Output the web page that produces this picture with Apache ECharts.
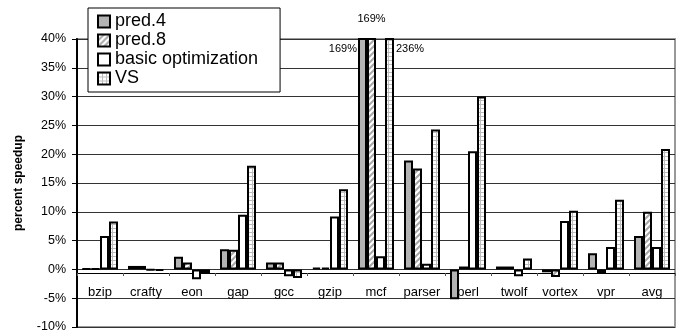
<!DOCTYPE html>
<html><head><meta charset="utf-8">
<script src="https://cdn.jsdelivr.net/npm/echarts@6/dist/echarts.min.js"></script>
<style>html,body{margin:0;padding:0;background:#fff}#c{width:681px;height:335px}</style>
</head><body><div id="c"></div>
<script>
const categories = ['bzip','crafty','eon','gap','gcc','gzip','mcf','parser','perl','twolf','vortex','vpr','avg'];
const pred4 = [0.1, 0.6, 2.2, 3.5, 1.2, 0.3, 169, 18.9, -5.2, 0.5, -0.5, 2.8, 5.8];
const pred8 = [0.1, 0.6, 1.2, 3.4, 1.2, 0.3, 169, 17.5, 0.5, 0.5, -1.3, -0.7, 10.0];
const basic = [5.8, -0.1, -1.7, 9.5, -1.2, 9.2, 2.3, 1.0, 20.5, -1.2, 8.4, 3.9, 3.9];
const vs = [8.3, -0.2, -0.7, 18.0, -1.5, 13.9, 236, 24.3, 30.0, 1.9, 10.2, 12.1, 20.9];
const seriesNames = ['pred.4','pred.8','basic optimization','VS'];
const yMin = -10, yMax = 40, yStep = 5;

const FONT = 'Liberation Sans, Arial, sans-serif';

function stripePattern(){
  const c = document.createElement('canvas'); c.width = 6; c.height = 6;
  const g = c.getContext('2d');
  g.fillStyle = '#fff'; g.fillRect(0,0,6,6);
  g.strokeStyle = '#a8a8a8'; g.lineWidth = 2;
  g.beginPath();
  g.moveTo(-1,7); g.lineTo(7,-1);
  g.moveTo(-4,4); g.lineTo(4,-4);
  g.moveTo(2,10); g.lineTo(10,2);
  g.stroke();
  return {image: c, repeat: 'repeat'};
}
function gridPattern(){
  const c = document.createElement('canvas'); c.width = 4; c.height = 4;
  const g = c.getContext('2d');
  g.fillStyle = '#fff'; g.fillRect(0,0,4,4);
  g.fillStyle = '#bdbdbd';
  g.fillRect(0,0,4,1);
  g.fillRect(0,0,1,4);
  return {image: c, repeat: 'repeat'};
}

function buildData(arr, labelCfg){
  return arr.map(v => {
    if (v > yMax && labelCfg) {
      return {value: v, label: Object.assign({show: true, formatter: v + '%', fontSize: 11, color: '#000', fontFamily: FONT}, labelCfg)};
    }
    return v;
  });
}

const fills = ['#b3b3b3', stripePattern(), '#ffffff', gridPattern()];
const labelCfgs = [
  {position: [-1, 11], align: 'right', verticalAlign: 'middle'},
  {position: 'top', distance: 14},
  null,
  {position: [11, 11], align: 'left', verticalAlign: 'middle'}
];
const values = [pred4, pred8, basic, vs];

const chart = echarts.init(document.getElementById('c'), null, {renderer: 'canvas'});
chart.setOption({
  animation: false,
  backgroundColor: '#fff',
  grid: {left: 77, right: 6, top: 39, bottom: 8, show: true, borderColor: '#999', borderWidth: 2, containLabel: false},
  legend: {
    orient: 'vertical', left: 88, top: 8,
    backgroundColor: '#fff', borderColor: '#000', borderWidth: 1,
    padding: [4, 22, 4, 9], itemGap: 0,
    itemWidth: 12, itemHeight: 12, icon: 'rect',
    textStyle: {fontSize: 18, lineHeight: 19, color: '#000', fontFamily: FONT},
    data: seriesNames
  },
  xAxis: {
    type: 'category', data: categories, position: 'bottom', offset: 0,
    axisLine: {onZero: false, lineStyle: {color: '#000', width: 1}},
    axisTick: {show: true, length: 3, lineStyle: {color: '#555'}},
    axisLabel: {interval: 0, fontSize: 13, color: '#000', fontFamily: FONT, margin: 13},
    splitLine: {show: false}
  },
  yAxis: {
    type: 'value', min: yMin, max: yMax, interval: yStep,
    name: 'percent speedup', nameLocation: 'middle', nameGap: 52,
    nameTextStyle: {fontSize: 12, fontWeight: 'bold', color: '#000', fontFamily: FONT},
    axisLine: {show: true, lineStyle: {color: '#000', width: 2}},
    axisTick: {show: true, length: 5, lineStyle: {color: '#000'}},
    axisLabel: {formatter: '{value}%', fontSize: 12.5, color: '#000', fontFamily: FONT, margin: 11},
    splitLine: {show: true, lineStyle: {color: '#333', width: 1}}
  },
  series: seriesNames.map((n, i) => ({
    name: n, type: 'bar', clip: true,
    barWidth: 9, barGap: '0%',
    itemStyle: {color: fills[i], borderColor: '#000', borderWidth: 2},
    data: buildData(values[i], labelCfgs[i])
  }))
});
// place the category axis on the zero line using the value scale
const yZero = chart.convertToPixel({yAxisIndex: 0}, 0);
const yBottom = chart.convertToPixel({yAxisIndex: 0}, yMin);
chart.setOption({xAxis: {offset: -(yBottom - yZero)}});
</script></body></html>
